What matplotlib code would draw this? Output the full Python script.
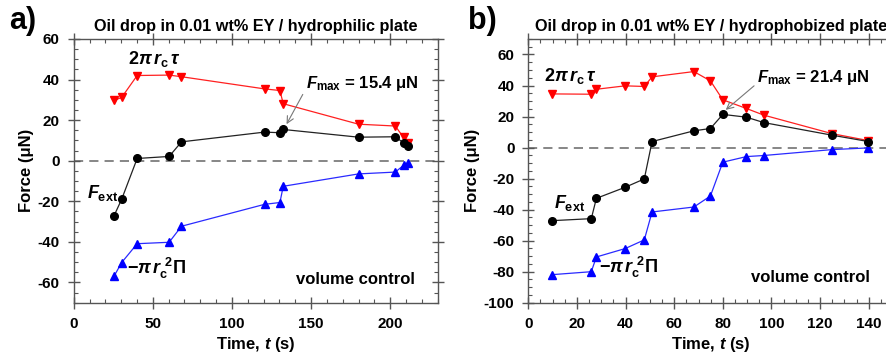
import numpy as np
import matplotlib
matplotlib.use("Agg")
import matplotlib.pyplot as plt
from matplotlib.ticker import MultipleLocator

plt.rcParams['font.family'] = ['Liberation Sans', 'DejaVu Sans']
plt.rcParams['font.weight'] = 'bold'
plt.rcParams['axes.unicode_minus'] = False
plt.rcParams['mathtext.fontset'] = 'custom'
plt.rcParams['mathtext.rm'] = 'Liberation Sans:bold'
plt.rcParams['mathtext.it'] = 'Liberation Sans:bold:italic'
plt.rcParams['mathtext.bf'] = 'Liberation Sans:bold'

# panel a: hydrophilic plate
t_a = [25.5, 30.3, 40.1, 60.3, 68.1, 120.6, 130.3, 132.4, 180.0, 203.2, 208.4, 211.1]
tension_a = [29.7, 31.2, 42.0, 42.2, 41.4, 35.4, 34.6, 28.1, 18.0, 17.1, 11.5, 8.8]
fext_a = [-27.1, -19.0, 1.1, 2.1, 9.3, 14.1, 13.8, 15.4, 11.6, 11.8, 8.8, 7.1]
press_a = [-56.9, -50.2, -40.9, -40.2, -32.3, -21.5, -20.6, -12.6, -6.5, -5.6, -2.3, -1.3]
fmax_a = 15.4

# panel b: hydrophobized plate
t_b = [9.8, 25.9, 28.0, 39.8, 47.7, 50.9, 68.1, 74.9, 80.0, 89.7, 96.9, 124.9, 139.9]
tension_b = [34.6, 34.4, 37.6, 39.8, 39.4, 45.6, 49.0, 43.0, 30.8, 25.2, 20.9, 9.0, 4.5]
fext_b = [-47.1, -45.8, -32.7, -25.6, -20.2, 3.9, 10.8, 12.3, 21.4, 19.6, 16.1, 8.0, 3.9]
press_b = [-81.9, -80.0, -70.5, -65.1, -59.5, -41.5, -38.3, -31.2, -9.4, -5.8, -5.1, -1.3, -0.2]
fmax_b = 21.4

fig = plt.figure(figsize=(8.86, 3.57), dpi=100)
ax_a = fig.add_axes([0.0832, 0.152, 0.4108, 0.7388])
ax_b = fig.add_axes([0.5963, 0.152, 0.4116, 0.7388])

spine_col = '#555555'


def draw_panel(ax, t, tension, fext, press, fmax, xlim, ylim, xmaj, xmin_, ymaj, ymin_,
               title, letter, lbl):
    ax.axhline(0, color='#666666', lw=1.1, ls=(0, (6, 4)), zorder=1)
    ax.plot(t, tension, color='#ff2020', lw=0.9, marker='v', ms=6,
            mfc='red', mec='red', zorder=3)
    ax.plot(t, press, color='#2a2aff', lw=0.9, marker='^', ms=6,
            mfc='blue', mec='blue', zorder=3)
    ax.plot(t, fext, color='#222222', lw=0.9, marker='o', ms=5.5,
            mfc='black', mec='black', zorder=4)

    ax.set_xlim(*xlim)
    ax.set_ylim(*ylim)
    ax.xaxis.set_major_locator(MultipleLocator(xmaj))
    ax.xaxis.set_minor_locator(MultipleLocator(xmin_))
    ax.yaxis.set_major_locator(MultipleLocator(ymaj))
    ax.yaxis.set_minor_locator(MultipleLocator(ymin_))
    ax.tick_params(which='major', direction='inout', length=8, width=1,
                   color=spine_col, top=True, right=True, labelsize=11, pad=6)
    ax.tick_params(which='minor', direction='in', length=3, width=0.8,
                   color=spine_col, top=True, right=True)
    for lab in ax.get_xticklabels() + ax.get_yticklabels():
        lab.set_fontweight('bold')
    for s in ax.spines.values():
        s.set_color(spine_col)
        s.set_linewidth(1.0)

    ax.set_xlabel(r'Time, $t$ (s)', fontsize=12, fontweight='bold', labelpad=3)
    ax.set_ylabel('Force (μN)', fontsize=12, fontweight='bold', labelpad=3)
    ax.set_title(title, fontsize=11.7, fontweight='bold', pad=6)

    # annotations
    ax.text(lbl['tau'][0], lbl['tau'][1], r'$2\pi\,r_{\rm c}\,\tau$', fontsize=13,
            va='center', ha='left')
    ax.text(lbl['ext'][0], lbl['ext'][1], r'$F_{\rm ext}$', fontsize=13,
            va='center', ha='left')
    ax.text(lbl['pi'][0], lbl['pi'][1], r'$-\pi\,r_{\rm c}^{\ 2}\Pi$', fontsize=13,
            va='center', ha='left')
    ax.text(lbl['vol'][0], lbl['vol'][1], 'volume control', fontsize=12,
            fontweight='bold', va='center', ha='left')
    ax.annotate(r'$F_{\rm max}$' + ' = {:.1f} μN'.format(fmax),
                xy=lbl['arrow_end'], xytext=lbl['fmax'], fontsize=12,
                fontweight='bold', va='center', ha='left',
                arrowprops=dict(arrowstyle='->', color='#777777', lw=0.8,
                                shrinkA=0, shrinkB=0, relpos=(0, 0.2)))
    ax.text(-0.178 if letter == 'a)' else -0.165, 1.07, letter, transform=ax.transAxes,
            fontsize=22, fontweight='bold', va='center', ha='left')


draw_panel(ax_a, t_a, tension_a, fext_a, press_a, fmax_a, (0, 230), (-70, 60),
           50, 10, 20, 5, 'Oil drop in 0.01 wt% EY / hydrophilic plate', 'a)',
           dict(tau=(34, 50), ext=(8.5, -16), pi=(33.5, -53), vol=(140.5, -58.5),
                fmax=(146.5, 38), arrow_end=(134.5, 18)))
draw_panel(ax_b, t_b, tension_b, fext_b, press_b, fmax_b, (0, 150), (-100, 70),
           20, 5, 20, 5, 'Oil drop in 0.01 wt% EY / hydrophobized plate', 'b)',
           dict(tau=(6.5, 46.3), ext=(10.5, -36), pi=(29, -77), vol=(91.4, -83.7),
                fmax=(94, 45), arrow_end=(81.2, 24.3)))

fig.savefig('out.png', dpi=100)
